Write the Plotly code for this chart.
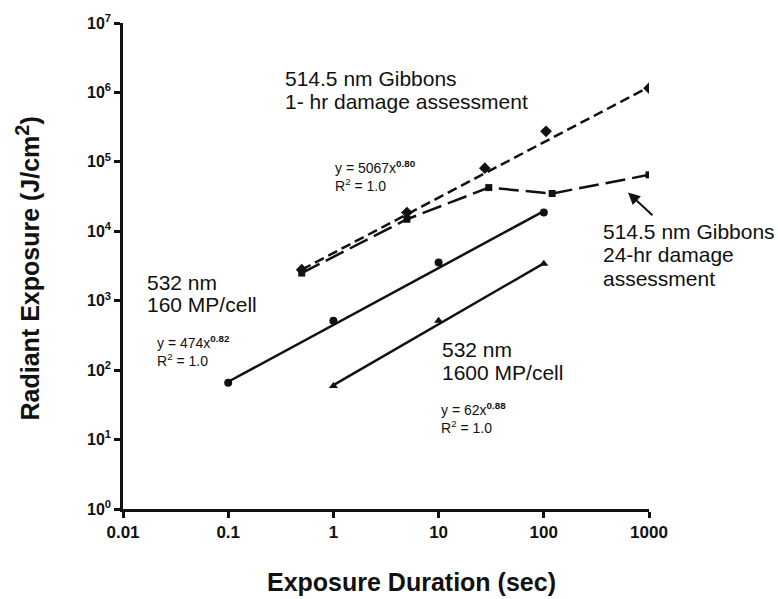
import plotly.graph_objects as go

# ---- data ----
hr1_x = [0.5, 5, 27.5, 105, 1000]
hr1_y = [2800, 18600, 81000, 275000, 1150000]
hr1_fit_x = [0.5, 1000]
hr1_fit_y = [2800, 1200000]

hr24_x = [0.5, 5, 30, 120, 1000]
hr24_y = [2500, 14900, 42600, 35000, 65000]

mp160_x = [0.1, 1, 10, 100]
mp160_y = [66, 513, 3540, 18700]
mp160_fit_x = [0.1, 100]
mp160_fit_y = [68, 19500]

mp1600_x = [1, 10, 100]
mp1600_y = [59, 513, 3400]
mp1600_fit_x = [1, 100]
mp1600_fit_y = [61, 3450]

x_tickvals = [0.01, 0.1, 1, 10, 100, 1000]
x_ticktext = ["0.01", "0.1", "1", "10", "100", "1000"]
y_tickvals = [1, 10, 100, 1e3, 1e4, 1e5, 1e6, 1e7]
y_ticktext = ["10<sup>%d</sup>" % i for i in range(8)]

FONT = "Liberation Sans, Arial, sans-serif"
BLK = "#111111"

fig = go.Figure()
fig.add_trace(go.Scatter(x=hr1_fit_x, y=hr1_fit_y, mode="lines",
                         line=dict(color=BLK, width=2.5, dash="10px,5px"), showlegend=False))
fig.add_trace(go.Scatter(x=hr1_x, y=hr1_y, mode="markers",
                         marker=dict(symbol="diamond", size=9, color=BLK), showlegend=False))
fig.add_trace(go.Scatter(x=hr24_x, y=hr24_y, mode="lines+markers",
                         line=dict(color=BLK, width=2.5, dash="20px,7px"),
                         marker=dict(symbol="square", size=7, color=BLK), showlegend=False))
fig.add_trace(go.Scatter(x=mp160_fit_x, y=mp160_fit_y, mode="lines",
                         line=dict(color=BLK, width=2.5), showlegend=False))
fig.add_trace(go.Scatter(x=mp160_x, y=mp160_y, mode="markers",
                         marker=dict(symbol="circle", size=8, color=BLK), showlegend=False))
fig.add_trace(go.Scatter(x=mp1600_fit_x, y=mp1600_fit_y, mode="lines",
                         line=dict(color=BLK, width=2.5), showlegend=False))
fig.add_trace(go.Scatter(x=mp1600_x, y=mp1600_y, mode="markers",
                         marker=dict(symbol="triangle-up", size=8, color=BLK), showlegend=False))

L, R, T, B = 123, 129, 16, 90
W, H = 778, 599
pw, ph = W - L - R, H - T - B

def px2data(px, py):
    xl = -2 + (px - L) / pw * 5
    yl = 7 - (py - T) / ph * 7
    return xl, yl

annos = []
def txt(px, py, text, size):
    xl, yl = px2data(px, py)
    annos.append(dict(x=xl, y=yl, xref="x", yref="y", text=text, showarrow=False,
                      xanchor="left", yanchor="middle", align="left", borderpad=0,
                      font=dict(family=FONT, size=size, color=BLK)))

BIG, EQ = 21, 14
txt(284, 72, "514.5 nm Gibbons", BIG)
txt(284, 96, "1- hr damage assessment", BIG)
txt(334, 171, "y = 5067x<sup><b>0.80</b></sup><br>R<sup>2</sup> = 1.0", EQ)
txt(602, 227, "514.5 nm Gibbons", BIG)
txt(602, 251, "24-hr damage", BIG)
txt(602, 275, "assessment", BIG)
txt(146, 279, "532 nm", BIG)
txt(146, 302, "160 MP/cell", BIG)
txt(156, 349, "y = 474x<sup><b>0.82</b></sup><br>R<sup>2</sup> = 1.0", EQ)
txt(441, 347, "532 nm", BIG)
txt(441, 371, "1600 MP/cell", BIG)
txt(440, 417, "y = 62x<sup><b>0.88</b></sup><br>R<sup>2</sup> = 1.0", EQ)

ax_, ay_ = px2data(628, 188)
annos.append(dict(x=ax_, y=ay_, xref="x", yref="y", text="", showarrow=True,
                  arrowhead=2, arrowsize=1.2, arrowwidth=2, arrowcolor=BLK,
                  ax=26, ay=24))

# axis titles
annos.append(dict(x=(411 - L) / pw, y=-(583 - (T + ph)) / ph, xref="paper", yref="paper",
                  text="<b>Exposure Duration (sec)</b>", showarrow=False,
                  xanchor="center", yanchor="middle",
                  font=dict(family=FONT, size=25, color=BLK)))
annos.append(dict(x=-(L - 28) / pw, y=(H - B - 265) / ph, xref="paper", yref="paper",
                  text="<b>Radiant Exposure (J/cm<sup><span style='font-size:20px'>2</span></sup>)</b>",
                  showarrow=False,
                  textangle=-90, xanchor="center", yanchor="middle",
                  font=dict(family=FONT, size=25, color=BLK)))

fig.update_layout(
    width=W, height=H, margin=dict(l=L, r=R, t=T, b=B),
    plot_bgcolor="white", paper_bgcolor="white",
    annotations=annos,
    font=dict(family=FONT, color=BLK),
)
fig.update_xaxes(type="log", range=[-2, 3], tickvals=x_tickvals,
                 ticktext=["<b>%s</b>" % t for t in x_ticktext],
                 showgrid=False, zeroline=False, showline=True, linecolor=BLK, linewidth=2.5,
                 ticks="outside", ticklen=6, tickwidth=2.5, tickcolor=BLK,
                 tickfont=dict(family=FONT, size=17, color=BLK))
fig.update_yaxes(type="log", range=[0, 7], tickvals=y_tickvals,
                 ticktext=["<b>%s</b>" % t for t in y_ticktext],
                 showgrid=False, zeroline=False, showline=True, linecolor=BLK, linewidth=2.5,
                 ticks="outside", ticklen=6, tickwidth=2.5, tickcolor=BLK,
                 tickfont=dict(family=FONT, size=16, color=BLK))

fig.write_html("out.html")
